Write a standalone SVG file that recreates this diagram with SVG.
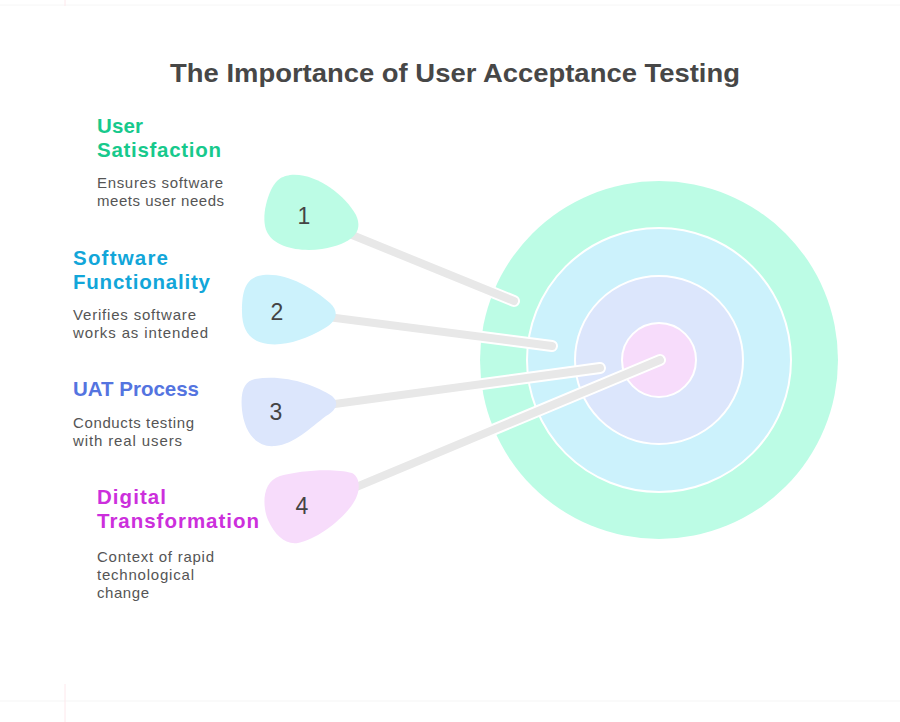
<svg xmlns="http://www.w3.org/2000/svg" width="900" height="722" viewBox="0 0 900 722">
<style>
.title{font-family:"Liberation Sans",Arial,sans-serif;font-weight:bold;font-size:25px;fill:#474747}
.head{font-family:"Liberation Sans",Arial,sans-serif;font-weight:bold;font-size:20.5px}
.desc{font-family:"Liberation Sans",Arial,sans-serif;font-size:15px;fill:#555555}
.num{font-family:"Liberation Sans",Arial,sans-serif;font-size:23px;fill:#444444;text-anchor:middle}
.ring{stroke:#ffffff;stroke-width:2}
.stalk-o{stroke:#ffffff;stroke-width:12;stroke-linecap:round;fill:none}
.stalk{stroke:#e8e8e8;stroke-width:8;stroke-linecap:round;fill:none}
</style>
<rect width="900" height="722" fill="#ffffff"/>
<line x1="0" y1="5" x2="900" y2="5" stroke="#f6f6f6" stroke-width="1"/>
<line x1="65" y1="0" x2="65" y2="6" stroke="#fde8ec" stroke-width="1"/>
<line x1="0" y1="701" x2="900" y2="701" stroke="#f5f5f5" stroke-width="1"/>
<line x1="65" y1="684" x2="65" y2="722" stroke="#fde8ec" stroke-width="1"/>

<text class="title" x="170" y="82" textLength="570" lengthAdjust="spacingAndGlyphs">The Importance of User Acceptance Testing</text>

<g id="target">
<circle cx="659" cy="360" r="179" fill="#bcfce5"/>
<circle class="ring" cx="659" cy="360" r="132" fill="#ccf2fc"/>
<circle class="ring" cx="659" cy="360" r="84" fill="#dce6fc"/>
<circle class="ring" cx="659" cy="360" r="37" fill="#f7dcfb"/>
</g>

<g id="connectors">
<line class="stalk-o" x1="330" y1="226" x2="514" y2="301"/>
<line class="stalk" x1="330" y1="226" x2="514" y2="301"/>
<line class="stalk-o" x1="320" y1="316" x2="552" y2="346"/>
<line class="stalk" x1="320" y1="316" x2="552" y2="346"/>
<line class="stalk-o" x1="320" y1="406" x2="600" y2="368"/>
<line class="stalk" x1="320" y1="406" x2="600" y2="368"/>
<line class="stalk-o" x1="330" y1="498" x2="660" y2="360"/>
<line class="stalk" x1="330" y1="498" x2="660" y2="360"/>
</g>

<g id="node1">
<path d="M 290,175 C 315,172 345,195 356,215 C 364,232 352,244 322,249 C 300,252 275,248 267,232 C 260,218 268,190 277,181 C 281,177 285,176 290,175 Z" fill="#bcfce5"/>
<text class="num" x="304" y="224">1</text>
<text class="head" fill="#17c98c" x="97" y="133" textLength="46">User</text>
<text class="head" fill="#17c98c" x="97" y="157" textLength="124">Satisfaction</text>
<text class="desc" x="97" y="188" textLength="126">Ensures software</text>
<text class="desc" x="97" y="206" textLength="127">meets user needs</text>
</g>

<g id="node2">
<path d="M 258,276 C 280,270 310,285 330,303 C 340,312 336,322 325,328 C 305,340 285,346 268,344 C 250,342 242,330 242,312 C 242,290 246,280 258,276 Z" fill="#ccf2fc"/>
<text class="num" x="277" y="320">2</text>
<text class="head" fill="#12a6d9" x="73" y="265" textLength="95">Software</text>
<text class="head" fill="#12a6d9" x="73" y="289" textLength="137">Functionality</text>
<text class="desc" x="73" y="320" textLength="123">Verifies software</text>
<text class="desc" x="73" y="338" textLength="135">works as intended</text>
</g>

<g id="node3">
<path d="M 255,379 C 285,374 315,385 332,396 C 340,403 336,410 326,416 C 310,428 295,444 275,446 C 255,448 244,430 242,410 C 240,390 245,381 255,379 Z" fill="#dce6fc"/>
<text class="num" x="276" y="420">3</text>
<text class="head" fill="#5474e0" x="73" y="396" textLength="126">UAT Process</text>
<text class="desc" x="73" y="428" textLength="121">Conducts testing</text>
<text class="desc" x="73" y="446" textLength="109">with real users</text>
</g>

<g id="node4">
<path d="M 280,476 C 300,470 335,468 352,473 C 362,478 360,495 352,505 C 340,522 315,540 298,543 C 285,545 275,535 268,520 C 262,505 262,482 280,476 Z" fill="#f7dcfb"/>
<text class="num" x="302" y="514">4</text>
<text class="head" fill="#cc2fdc" x="97" y="504" textLength="69">Digital</text>
<text class="head" fill="#cc2fdc" x="97" y="528" textLength="162">Transformation</text>
<text class="desc" x="97" y="562" textLength="117">Context of rapid</text>
<text class="desc" x="97" y="580" textLength="97">technological</text>
<text class="desc" x="97" y="598" textLength="52">change</text>
</g>
</svg>
